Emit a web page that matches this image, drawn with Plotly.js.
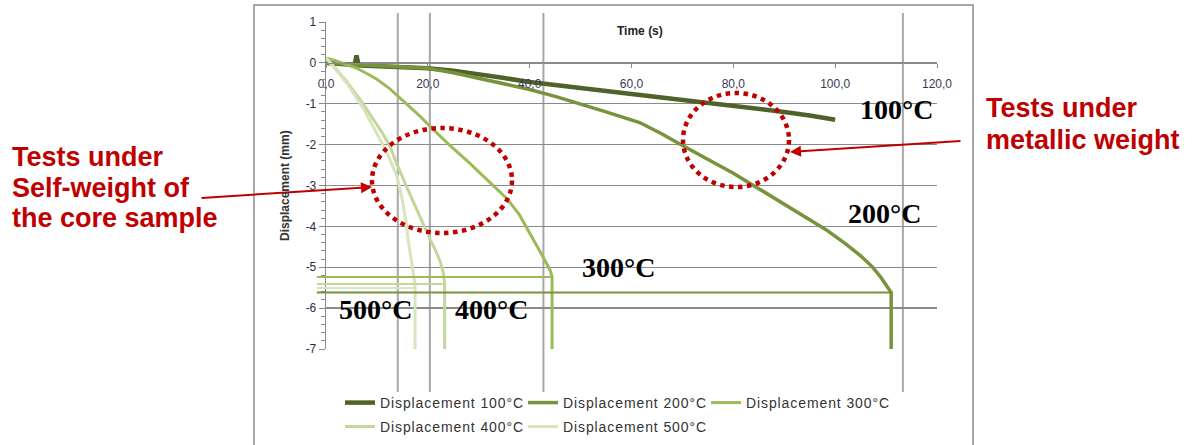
<!DOCTYPE html>
<html><head><meta charset="utf-8">
<script src="https://cdn.plot.ly/plotly-3.0.1.min.js"></script>
<style>
html,body{margin:0;padding:0;background:#fff;}
#chart{width:1203px;height:445px;}
.legendtext, g.legend text, g.legend2 text, text.legendtext{letter-spacing:0.9px !important;}
</style></head><body><div id="chart"></div>
<script>
// ---------- data ----------
const seriesNames = ['Displacement 100°C','Displacement 200°C','Displacement 300°C','Displacement 400°C','Displacement 500°C'];

const t100 = [0,2,4,5.6,6,6.4,8,10,15,20,25,30,35,40,45,50,55,60,65,70,75,80,85,90,95,100];
const d100 = [0,-0.02,-0.04,-0.05,0.18,-0.06,-0.07,-0.08,-0.1,-0.13,-0.19,-0.27,-0.37,-0.47,-0.55,-0.62,-0.69,-0.76,-0.83,-0.9,-0.97,-1.04,-1.12,-1.2,-1.29,-1.39];

const t200 = [0,5,10,15,20,25,30,35,40,45,50,55,61.6,66,70,75,80,83.7,88,93,98.2,102,105,107.3,109,110.2,111,111];
const d200 = [0,-0.03,-0.06,-0.09,-0.13,-0.24,-0.37,-0.5,-0.65,-0.82,-1.0,-1.2,-1.46,-1.74,-2.02,-2.36,-2.7,-2.98,-3.3,-3.68,-4.08,-4.42,-4.72,-4.99,-5.25,-5.47,-5.62,-7];

const t300 = [0,2,4,6,8,10,12.5,14.6,16.5,18.5,20.4,24,28,32,35.6,38,40.7,42.5,43.5,44.1,44.4,44.4];
const d300 = [0.12,0.05,-0.04,-0.13,-0.26,-0.4,-0.63,-0.86,-1.07,-1.31,-1.55,-1.98,-2.43,-2.9,-3.33,-3.72,-4.3,-4.72,-4.95,-5.1,-5.24,-7];

const t400 = [0,2,4,6,7.3,9,11,12.6,14,15.9,17.5,19,20.5,21.5,22.4,23,23.3,23.3];
const d400 = [0.12,-0.15,-0.45,-0.78,-1.0,-1.33,-1.7,-2.05,-2.5,-3.05,-3.5,-3.93,-4.33,-4.58,-4.85,-5.12,-5.41,-7];

const t500 = [0,1.5,3,4.5,6,7.5,9,10.5,12,13,14,15,15.6,16.1,16.7,17.1,17.4,17.5,17.5];
const d500 = [0.12,-0.1,-0.33,-0.57,-0.85,-1.15,-1.5,-1.85,-2.2,-2.5,-2.8,-3.35,-3.8,-4.3,-4.75,-5.05,-5.35,-5.51,-7];

// horizontal hold lines (series index, end time, level)
const holdSeries = [1,2,3,4];
const holdEndT   = [111,44.4,23.3,17.5];
const holdLevel  = [-5.62,-5.24,-5.41,-5.51];
const holdStartT = -1.8;

// vertical reference lines (time, s)
const refTimes = [14.1,20.4,42.7,113.3];

const xTickVals = [0,20,40,60,80,100,120];
const yTickVals = [1,0,-1,-2,-3,-4,-5,-6,-7];
const yTickText = ['1','0','-1','-2','-3','-4','-5','-6','-7'];

// ---------- style ----------
const colors = ['#4f6228','#77933c','#9bbb59','#c3d69b','#d7e4bd'];
const widths = [4.5,3.5,3,3,3];
const legendOf = ['legend','legend','legend','legend2','legend2'];
const T = [t100,t200,t300,t400,t500];
const D = [d100,d200,d300,d400,d500];

const L=326, Rp=937, Tp=22, Bp=349, W=Rp-L, H=Bp-Tp;
const px = x => (x-L)/W;     // pixel -> paper x
const py = y => (Bp-y)/H;    // pixel -> paper y

const traces = T.map((t,i)=>({
  type:'scatter', mode:'lines', x:t, y:D[i], name:seriesNames[i], legend:legendOf[i],
  line:{color:colors[i], width:widths[i]}, hoverinfo:'skip'
}));

const shapes = [];
shapes.push({type:'rect', xref:'paper', yref:'paper', x0:px(254), x1:px(973), y0:py(5), y1:py(470),
  line:{color:'#8a8a8a', width:1.5}, layer:'below'});
refTimes.forEach(tv=>shapes.push({type:'line', xref:'x', yref:'paper', x0:tv, x1:tv, y0:py(13), y1:py(392),
  line:{color:'#a8a8a8', width:2}, layer:'below'}));
holdSeries.forEach((s,k)=>shapes.push({type:'line', xref:'paper', yref:'y',
  x0:holdStartT/120, x1:holdEndT[k]/120, y0:holdLevel[k], y1:holdLevel[k],
  line:{color:colors[s], width:2}, layer:'above'}));
const red = '#c00000';
shapes.push({type:'circle', xref:'paper', yref:'paper', x0:px(372), x1:px(512), y0:py(233), y1:py(128),
  line:{color:red, width:4.5, dash:'4.5px,4.5px'}});
shapes.push({type:'circle', xref:'paper', yref:'paper', x0:px(683), x1:px(789), y0:py(187), y1:py(93),
  line:{color:red, width:4.5, dash:'4.5px,4.5px'}});

const serif = {family:'Liberation Serif, Times New Roman, serif', size:28, color:'#000', weight:'bold'};
const redFont = {family:'Liberation Sans, Arial, sans-serif', size:27, color:red, weight:'bold'};
const ann = [];
const lab = (txt,cx,cy)=>ann.push({text:'<b>'+txt+'</b>', xref:'paper', yref:'paper', x:px(cx), y:py(cy),
  xanchor:'center', yanchor:'middle', showarrow:false, font:serif, borderpad:0});
lab('100°C',896,109.5); lab('200°C',884,213.5); lab('300°C',618.5,267.5); lab('500°C',375.5,309.5); lab('400°C',491,309.5);
const rtxt = (txt,lx,cy)=>ann.push({text:'<b>'+txt+'</b>', xref:'paper', yref:'paper', x:px(lx), y:py(cy),
  xanchor:'left', yanchor:'middle', showarrow:false, font:redFont, borderpad:0});
rtxt('Tests under',11,157); rtxt('Self-weight of',11,187.5); rtxt('the core sample',11,218);
rtxt('Tests under',985,108); rtxt('metallic weight',985,140);
ann.push({text:'', xref:'paper', yref:'paper', x:px(372), y:py(187), ax:-172, ay:11, showarrow:true,
  arrowhead:2, arrowsize:1.1, arrowwidth:2, arrowcolor:red});
ann.push({text:'', xref:'paper', yref:'paper', x:px(790), y:py(152), ax:172, ay:-11, showarrow:true,
  arrowhead:2, arrowsize:1.1, arrowwidth:2, arrowcolor:red});
ann.push({text:'<b>Time (s)</b>', xref:'paper', yref:'paper', x:px(640), y:py(31), xanchor:'center', yanchor:'middle',
  showarrow:false, font:{size:12, color:'#222'}});
ann.push({text:'<b>Displacement (mm)</b>', xref:'paper', yref:'paper', x:px(285), y:py(186), xanchor:'center', yanchor:'middle',
  textangle:-90, showarrow:false, font:{size:12, color:'#333'}});

const mkLegend = (yPix)=>({orientation:'h', xanchor:'left', yanchor:'middle', x:px(340), y:py(yPix),
  entrywidth:138, entrywidthmode:'pixels', traceorder:'normal',
  font:{family:'Liberation Sans, Arial, sans-serif', size:14, color:'#333'},
  bgcolor:'rgba(0,0,0,0)', borderwidth:0});

const layout = {
  width:1203, height:445,
  margin:{l:L, r:1203-Rp, t:Tp, b:445-Bp, pad:0, autoexpand:false},
  paper_bgcolor:'#fff', plot_bgcolor:'rgba(0,0,0,0)',
  separators:', ',
  font:{family:'Liberation Sans, Arial, sans-serif', size:12, color:'#333'},
  showlegend:true,
  legend:mkLegend(403),
  legend2:mkLegend(427),
  xaxis:{range:[0,120], tickvals:xTickVals, tickformat:'.1f', anchor:'free', position:7/8,
    showgrid:false, zeroline:false, showline:true, linecolor:'#8a8a8a', linewidth:1.3,
    ticks:'outside', ticklen:4, tickcolor:'#8a8a8a', tickfont:{size:12, color:'#3a3a58'},
    ticklabelstandoff:5, fixedrange:true},
  yaxis:{range:[-7,1], tickvals:yTickVals, ticktext:yTickText, showgrid:true, gridcolor:'#8a8a8a', gridwidth:1.3,
    zeroline:false, showline:true, linecolor:'#8a8a8a', linewidth:1.3,
    ticks:'outside', ticklen:6, tickcolor:'#8a8a8a', tickfont:{size:12, color:'#2a2a48'},
    minor:{dtick:0.2, ticks:'outside', ticklen:4, tickcolor:'#8a8a8a', showgrid:false},
    fixedrange:true},
  shapes:shapes, annotations:ann
};
Plotly.newPlot('chart', traces, layout, {displayModeBar:false, staticPlot:true});
</script></body></html>
